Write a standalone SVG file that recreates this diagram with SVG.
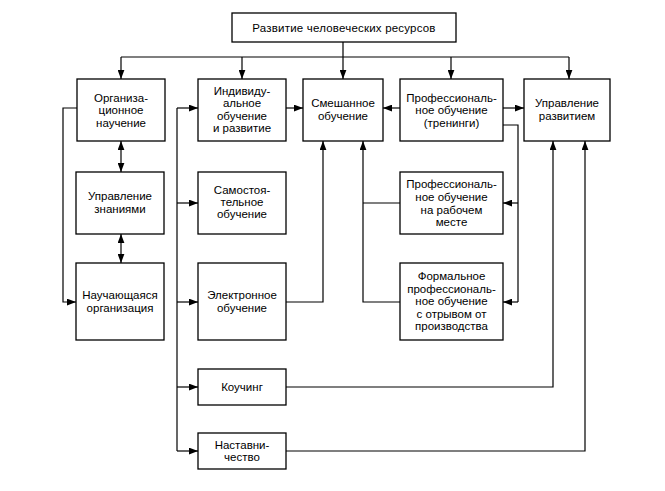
<svg xmlns="http://www.w3.org/2000/svg" width="665" height="491" viewBox="0 0 665 491">
<defs>
<marker id="ah" markerUnits="userSpaceOnUse" markerWidth="9" markerHeight="7" refX="8" refY="3" orient="auto-start-reverse" viewBox="0 0 8 6">
<path d="M0,0 L8,3 L0,6 Z" fill="#000"/>
</marker>
<style>
.box{fill:#fff;stroke:#000;stroke-width:1.3}
.t{font-family:"Liberation Sans",Arial,sans-serif;font-size:11.5px;fill:#000;text-anchor:middle}
.c{fill:none;stroke:#000;stroke-width:1.2}
.a{marker-end:url(#ah)}
.d{marker-start:url(#ah);marker-end:url(#ah)}
</style>
</defs>
<rect width="665" height="491" fill="#fff"/>
<g id="connectors">
<path class="c" d="M343,42 V57 M121,57 H569"/>
<path class="c a" d="M121,57 V79"/>
<path class="c a" d="M242,57 V79"/>
<path class="c a" d="M343,57 V79"/>
<path class="c a" d="M451,57 V79"/>
<path class="c a" d="M569,57 V79"/>
<path class="c a" d="M77,108 H63 V302 H76"/>
<path class="c d" d="M121,141 V172"/>
<path class="c d" d="M121,234 V263"/>
<path class="c" d="M177,108 V451"/>
<path class="c a" d="M177,108 H198"/>
<path class="c a" d="M177,203 H198"/>
<path class="c a" d="M177,302 H198"/>
<path class="c a" d="M177,387 H198"/>
<path class="c a" d="M177,451 H198"/>
<path class="c a" d="M286,108 H303"/>
<path class="c a" d="M400,108 H383"/>
<path class="c a" d="M503,108 H524"/>
<path class="c" d="M503,125 H518 V302"/>
<path class="c a" d="M518,203 H503"/>
<path class="c a" d="M518,302 H503"/>
<path class="c a" d="M286,302 H323 V141"/>
<path class="c" d="M400,203 H363"/>
<path class="c a" d="M400,302 H363 V141"/>
<path class="c a" d="M286,387 H553 V141"/>
<path class="c a" d="M286,451 H585 V141"/>
</g>
<g id="n-top"><rect class="box" x="232" y="13" width="224" height="29"/><text class="t" x="344" y="32" letter-spacing="0.2">Развитие человеческих ресурсов</text></g>
<g id="n-org"><rect class="box" x="77" y="79" width="88" height="62"/><text class="t" x="121" y="102">Организа-</text><text class="t" x="121" y="114">ционное</text><text class="t" x="121" y="126.5">научение</text></g>
<g id="n-ind"><rect class="box" x="198" y="79" width="88" height="62"/><text class="t" x="242" y="94.5">Индивиду-</text><text class="t" x="242" y="107">альное</text><text class="t" x="242" y="119.5">обучение</text><text class="t" x="242" y="132">и развитие</text></g>
<g id="n-mix"><rect class="box" x="303" y="79" width="80" height="62"/><text class="t" x="343" y="107">Смешанное</text><text class="t" x="343" y="120">обучение</text></g>
<g id="n-prof"><rect class="box" x="400" y="79" width="103" height="62"/><text class="t" x="451.5" y="102">Профессиональ-</text><text class="t" x="451.5" y="114">ное обучение</text><text class="t" x="451.5" y="126.5">(тренинги)</text></g>
<g id="n-upr"><rect class="box" x="524" y="79" width="86" height="62"/><text class="t" x="567" y="107">Управление</text><text class="t" x="567" y="119.5">развитием</text></g>
<g id="n-zn"><rect class="box" x="76" y="172" width="88" height="62"/><text class="t" x="120" y="200">Управление</text><text class="t" x="120" y="213">знаниями</text></g>
<g id="n-sam"><rect class="box" x="198" y="172" width="88" height="62"/><text class="t" x="242" y="194">Самостоя-</text><text class="t" x="242" y="206">тельное</text><text class="t" x="242" y="218">обучение</text></g>
<g id="n-rab"><rect class="box" x="400" y="172" width="103" height="62"/><text class="t" x="451.5" y="188">Профессиональ-</text><text class="t" x="451.5" y="200.5">ное обучение</text><text class="t" x="451.5" y="213.5">на рабочем</text><text class="t" x="451.5" y="226">месте</text></g>
<g id="n-nauch"><rect class="box" x="76" y="263" width="88" height="77"/><text class="t" x="120" y="299">Научающаяся</text><text class="t" x="120" y="311.5">организация</text></g>
<g id="n-el"><rect class="box" x="198" y="263" width="88" height="77"/><text class="t" x="242" y="299">Электронное</text><text class="t" x="242" y="311.5">обучение</text></g>
<g id="n-form"><rect class="box" x="400" y="263" width="103" height="77"/><text class="t" x="451.5" y="280">Формальное</text><text class="t" x="451.5" y="292.5">профессиональ-</text><text class="t" x="451.5" y="305">ное обучение</text><text class="t" x="451.5" y="318">с отрывом от</text><text class="t" x="451.5" y="330">производства</text></g>
<g id="n-kouch"><rect class="box" x="198" y="369" width="88" height="36"/><text class="t" x="242" y="391">Коучинг</text></g>
<g id="n-nast"><rect class="box" x="198" y="433" width="88" height="36"/><text class="t" x="242" y="449">Наставни-</text><text class="t" x="242" y="461">чество</text></g>
</svg>
